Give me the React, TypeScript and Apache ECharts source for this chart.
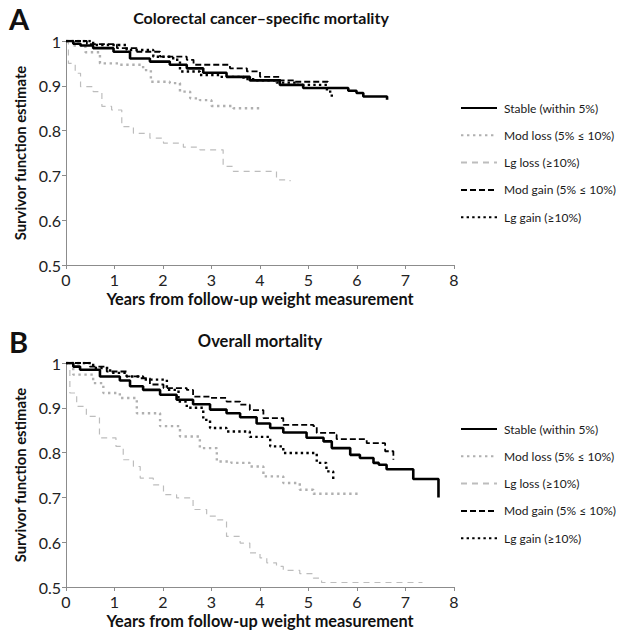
import React, { useEffect, useRef } from "react";
import * as echarts from "echarts";

// ---- Data (years, survivor estimate) ----
const seriesNames = [
  "Stable (within 5%)",
  "Mod loss (5% \u2264 10%)",
  "Lg loss (\u226510%)",
  "Mod gain (5% \u2264 10%)",
  "Lg gain (\u226510%)",
];

const xTicks = [0, 1, 2, 3, 4, 5, 6, 7, 8];
const yTicks = [0.5, 0.6, 0.7, 0.8, 0.9, 1];

// Panel A: colorectal cancer-specific mortality
const aStable = [[0, 1], [0.15, 0.994], [0.3, 0.99], [0.56, 0.984], [0.98, 0.976], [1.32, 0.961], [1.73, 0.954], [2.14, 0.947], [2.49, 0.939], [2.83, 0.929], [3.31, 0.92], [3.79, 0.912], [4.41, 0.902], [4.89, 0.895], [5.65, 0.895], [5.82, 0.889], [5.99, 0.884], [6.13, 0.876], [6.6, 0.876], [6.62, 0.869]];
const aModLoss = [[0, 1], [0.15, 0.99], [0.4, 0.975], [0.7, 0.95], [1.11, 0.947], [1.59, 0.935], [1.75, 0.909], [2.14, 0.906], [2.35, 0.887], [2.56, 0.872], [2.76, 0.868], [3.0, 0.855], [3.45, 0.85], [4.0, 0.849]];
const aLgLoss = [[0, 1], [0.05, 0.95], [0.19, 0.928], [0.3, 0.898], [0.56, 0.887], [0.74, 0.854], [0.94, 0.846], [1.15, 0.809], [1.39, 0.794], [1.73, 0.783], [2.01, 0.772], [2.42, 0.763], [2.76, 0.757], [3.24, 0.72], [3.45, 0.709], [4.34, 0.69], [4.62, 0.687]];
const aModGain = [[0, 1], [0.43, 0.993], [1.05, 0.984], [1.46, 0.976], [1.94, 0.965], [2.49, 0.958], [2.63, 0.947], [3.38, 0.939], [3.73, 0.932], [4.0, 0.92], [4.41, 0.912], [4.69, 0.909], [5.38, 0.909], [5.4, 0.903]];
const aLgGain = [[0, 1], [0.56, 0.991], [1.25, 0.98], [1.8, 0.965], [2.21, 0.958], [2.35, 0.932], [2.76, 0.924], [3.18, 0.92], [3.66, 0.915], [3.93, 0.912], [4.34, 0.907], [4.76, 0.902], [5.34, 0.902], [5.38, 0.887], [5.48, 0.872]];

// Panel B: overall mortality
const bStable = [[0, 1], [0.15, 0.992], [0.29, 0.985], [0.7, 0.97], [1.11, 0.961], [1.32, 0.948], [1.59, 0.94], [1.94, 0.929], [2.28, 0.918], [2.62, 0.908], [2.97, 0.896], [3.31, 0.888], [3.59, 0.879], [3.93, 0.865], [4.21, 0.855], [4.48, 0.845], [4.96, 0.833], [5.31, 0.825], [5.48, 0.81], [5.86, 0.795], [6.06, 0.788], [6.34, 0.777], [6.45, 0.773], [6.61, 0.763], [7.16, 0.741], [7.68, 0.7]];
const bModLoss = [[0, 1], [0.15, 0.974], [0.56, 0.955], [0.77, 0.933], [1.11, 0.922], [1.46, 0.888], [1.94, 0.859], [2.35, 0.836], [2.76, 0.81], [3.11, 0.78], [3.41, 0.777], [3.79, 0.769], [4.07, 0.747], [4.48, 0.732], [4.82, 0.717], [5.1, 0.708], [6.06, 0.706]];
const bLgLoss = [[0, 1], [0.08, 0.933], [0.22, 0.903], [0.42, 0.881], [0.69, 0.833], [1.03, 0.814], [1.18, 0.784], [1.39, 0.769], [1.53, 0.743], [1.8, 0.728], [2.01, 0.706], [2.28, 0.699], [2.62, 0.673], [2.9, 0.658], [3.11, 0.65], [3.31, 0.613], [3.59, 0.598], [3.79, 0.576], [4.0, 0.565], [4.14, 0.554], [4.34, 0.546], [4.48, 0.537], [4.82, 0.53], [5.1, 0.52], [5.27, 0.51], [7.35, 0.51]];
const bModGain = [[0, 1], [0.49, 0.992], [0.84, 0.981], [1.25, 0.97], [1.53, 0.966], [1.73, 0.952], [2.01, 0.944], [2.49, 0.94], [2.62, 0.925], [2.97, 0.922], [3.31, 0.914], [3.59, 0.907], [3.79, 0.895], [4.07, 0.877], [4.48, 0.862], [5.1, 0.859], [5.17, 0.844], [5.55, 0.84], [5.58, 0.83], [6.16, 0.83], [6.2, 0.821], [6.58, 0.803], [6.75, 0.784]];
const bLgGain = [[0, 1], [0.56, 0.989], [0.91, 0.978], [1.25, 0.97], [1.59, 0.963], [2.08, 0.94], [2.32, 0.914], [2.49, 0.9], [2.83, 0.873], [2.97, 0.855], [3.31, 0.847], [3.79, 0.835], [4.21, 0.814], [4.48, 0.799], [5.17, 0.777], [5.37, 0.758], [5.51, 0.74]];

const FONT = "Lato";

const styles = [
  { color: "#000000", width: 2.6, type: "solid" as any },
  { color: "#b0b0b0", width: 2.4, type: [2.4, 3.6] as any },
  { color: "#bdbdbd", width: 1.2, type: [6, 5] as any },
  { color: "#000000", width: 1.8, type: [6, 3] as any },
  { color: "#000000", width: 2.4, type: [2.4, 3.2] as any },
];

const panelA = [aStable, aModLoss, aLgLoss, aModGain, aLgGain];
const panelB = [bStable, bModLoss, bLgLoss, bModGain, bLgGain];

export default function App() {
  const ref = useRef<HTMLDivElement>(null);
  useEffect(() => {
    if (!ref.current) return;
    const chart = echarts.init(ref.current, undefined, { renderer: "svg" });

    const axisX = (gridIndex: number) => ({
      type: "value",
      gridIndex,
      min: xTicks[0],
      max: xTicks[xTicks.length - 1],
      interval: 1,
      name: "Years from follow-up weight measurement",
      nameLocation: "middle",
      nameGap: 25,
      nameTextStyle: { fontFamily: FONT, fontWeight: "bold", fontSize: 16.3, color: "#111" },
      axisLine: { show: true, lineStyle: { color: "#8c8c8c", width: 1 } },
      axisTick: { show: true, length: 4, lineStyle: { color: "#8c8c8c" } },
      axisLabel: { fontFamily: FONT, fontSize: 16, color: "#222", margin: 6 },
      splitLine: { show: false },
    });
    const axisY = (gridIndex: number) => ({
      type: "value",
      gridIndex,
      min: yTicks[0],
      max: yTicks[yTicks.length - 1],
      interval: 0.1,
      name: "Survivor function estimate",
      nameLocation: "middle",
      nameGap: 39,
      nameTextStyle: { fontFamily: FONT, fontWeight: "bold", fontSize: 14.8, color: "#111" },
      axisLine: { show: true, lineStyle: { color: "#8c8c8c", width: 1 } },
      axisTick: { show: true, length: 4, lineStyle: { color: "#8c8c8c" } },
      axisLabel: {
        fontFamily: FONT,
        fontSize: 16,
        color: "#222",
        margin: 5,
        formatter: (v: number) => String(Math.round(v * 10) / 10),
      },
      splitLine: { show: false },
    });

    const mkSeries = (data: number[][][], idx: number) =>
      data.map((d, i) => ({
        type: "line",
        name: seriesNames[i],
        xAxisIndex: idx,
        yAxisIndex: idx,
        data: d,
        step: "end",
        symbol: "none",
        showSymbol: false,
        z: 10 - i,
        lineStyle: { color: styles[i].color, width: styles[i].width, type: styles[i].type },
        itemStyle: { color: styles[i].color },
      }));

    const legend = (top: number) => ({
      orient: "vertical",
      left: 460,
      top,
      padding: 0,
      itemWidth: 36,
      itemHeight: 10,
      itemGap: 13.3,
      selectedMode: false,
      data: seriesNames,
      itemStyle: { color: "transparent", borderColor: "transparent", borderWidth: 0, opacity: 0 },
      textStyle: { fontFamily: FONT, fontSize: 12, lineHeight: 14, color: "#1a1a1a", padding: [0, 0, 0, 2] },
    });

    chart.setOption({
      animation: false,
      backgroundColor: "#ffffff",
      title: [
        { text: "A", left: 9, top: 4, padding: 0, textStyle: { fontFamily: FONT, fontSize: 29, fontWeight: "bold", color: "#111" } },
        { text: "Colorectal cancer\u2013specific mortality", left: 261, top: 9, padding: 0, textAlign: "center", textStyle: { fontFamily: FONT, fontSize: 16, fontWeight: "bold", color: "#111" } },
        { text: "B", left: 9, top: 327, padding: 0, textStyle: { fontFamily: FONT, fontSize: 29, fontWeight: "bold", color: "#111" } },
        { text: "Overall mortality", left: 260, top: 332, padding: 0, textAlign: "center", textStyle: { fontFamily: FONT, fontSize: 16.5, fontWeight: "bold", color: "#111" } },
      ],
      legend: [legend(101), legend(422)],
      grid: [
        { left: 66, top: 41, width: 388, height: 224 },
        { left: 66, top: 363, width: 388, height: 224 },
      ],
      xAxis: [axisX(0), axisX(1)],
      yAxis: [axisY(0), axisY(1)],
      series: [...mkSeries(panelA, 0), ...mkSeries(panelB, 1)],
    });
    return () => chart.dispose();
  }, []);
  return (
    <div
      ref={ref}
      style={{ position: "fixed", left: 0, top: 0, width: 617, height: 637, background: "#fff" }}
    />
  );
}
